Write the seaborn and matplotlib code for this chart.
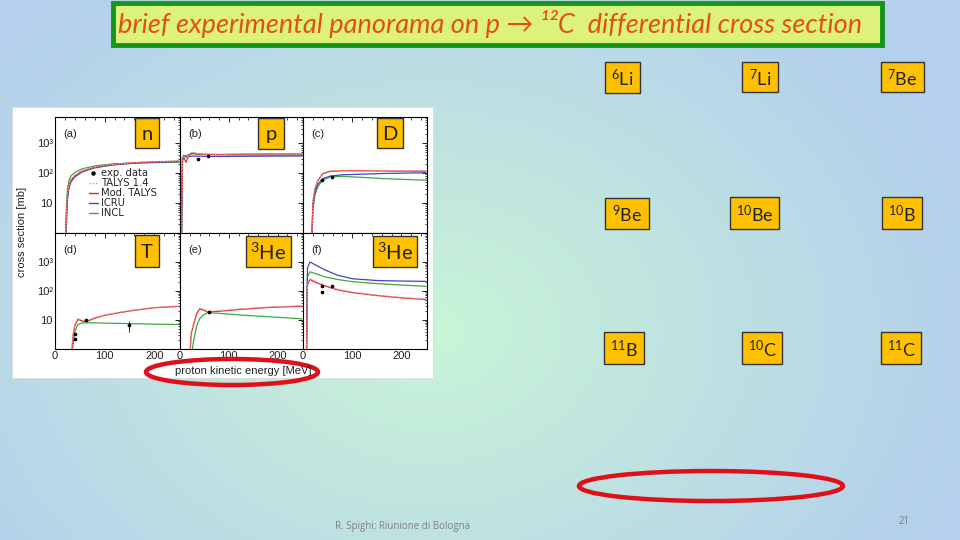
import numpy as np
import pandas as pd
import matplotlib
matplotlib.use("Agg")
import matplotlib.pyplot as plt
import seaborn as sns
from matplotlib.patches import Rectangle, Ellipse
from matplotlib.lines import Line2D
from matplotlib.ticker import FixedLocator, FixedFormatter, MultipleLocator, LogLocator, NullFormatter

# ---------------- data ----------------
models = ["TALYS 1.4", "Mod. TALYS", "ICRU", "INCL"]

# (a) neutrons
E_n = [21, 23, 25, 28, 32, 40, 55, 80, 120, 170, 250]
n_talys = [0.5, 5, 20, 40, 60, 85, 120, 160, 200, 230, 255]
n_mod = [0.5, 4, 18, 38, 58, 82, 118, 158, 198, 228, 252]
n_icru = [0.5, 2, 12, 30, 50, 75, 110, 150, 190, 220, 245]
n_incl = [0.5, 8, 30, 55, 80, 105, 140, 175, 205, 220, 230]

# (b) protons
E_p = [3, 5, 8, 12, 18, 25, 35, 50, 80, 120, 180, 250]
p_talys = [0.5, 300, 380, 260, 420, 500, 450, 430, 420, 430, 440, 440]
p_mod = [0.5, 250, 340, 230, 380, 480, 440, 425, 420, 430, 440, 440]
p_icru = [0.5, 320, 360, 350, 360, 370, 370, 365, 360, 365, 370, 375]
p_incl = [0.5, 340, 400, 380, 420, 440, 430, 420, 410, 405, 400, 400]
p_expE = [36, 58]
p_expY = [290, 370]

# (c) deuterons
E_d = [18, 20, 24, 30, 40, 55, 80, 120, 170, 250]
d_talys = [0.5, 12, 30, 60, 100, 120, 125, 125, 122, 120]
d_mod = [0.5, 10, 28, 55, 95, 115, 120, 120, 118, 116]
d_icru = [0.5, 8, 22, 42, 65, 80, 88, 92, 98, 103]
d_incl = [0.5, 6, 18, 35, 58, 75, 78, 72, 65, 58]
d_expE = [38, 58]
d_expY = [59, 74]

# (d) tritons
E_t = [33, 36, 40, 46, 55, 65, 80, 100, 150, 200, 250]
t_talys = [0.5, 3, 7, 11.5, 10, 9.5, 12, 15, 21, 27, 30]
t_mod = [0.5, 2.6, 6.4, 10.5, 9.2, 9.0, 11.5, 14.5, 20.5, 26.5, 29.5]
t_incl = [0.5, 1.2, 4, 7, 8, 8, 8, 7.8, 7.5, 7.2, 7.0]
t_expE = [40, 40, 62, 150]
t_expY = [3.4, 2.3, 10, 6.5]
t_expErr = [0, 0, 0, 2.5]

# (e) 3He
E_h = [20, 23, 28, 34, 40, 48, 57, 80, 120, 180, 250]
h_talys = [0.5, 4, 8, 18, 26, 24, 20, 21, 24, 28, 31]
h_mod = [0.5, 3.5, 7, 16, 24, 22, 19, 20, 23, 27, 30]
h_incl = [0.5, 0.5, 2, 6, 11, 15, 18, 17, 15, 13, 11]
h_expE = [60]
h_expY = [19]

# (f) alphas
E_f = [7, 9, 14, 25, 44, 70, 100, 150, 200, 250]
f_talys = [0.5, 180, 270, 220, 160, 115, 92, 72, 60, 53]
f_mod = [0.5, 160, 250, 200, 150, 110, 88, 70, 58, 51]
f_icru = [0.5, 600, 1000, 800, 540, 350, 265, 230, 220, 215]
f_incl = [0.5, 300, 460, 400, 310, 250, 210, 180, 160, 145]
f_expE = [38, 38, 58]
f_expY = [147, 95, 147]

panel_tags = ["(a)", "(b)", "(c)", "(d)", "(e)", "(f)"]
panel_particles = ["n", "p", "D", "T", "$^{3}$He", "$^{3}$He"]
fragments = ["$^{6}$Li", "$^{7}$Li", "$^{7}$Be",
             "$^{9}$Be", "$^{10}$Be", "$^{10}$B",
             "$^{11}$B", "$^{10}$C", "$^{11}$C"]
x_ticks = [0, 100, 200]
y_ticks = [10, 100, 1000]
y_ticklabels = ["10", "10²", "10³"]

title_text = "brief experimental panorama on p \u2192 \u00b9\u00b2C  differential cross section"
footer_text = "R. Spighi: Riunione di Bologna"
page_number = "21"

# ---------------- style ----------------
sns.set_theme(style="white")
plt.rcParams["font.family"] = ["Liberation Sans", "DejaVu Sans"]
plt.rcParams["mathtext.fontset"] = "custom"
plt.rcParams["mathtext.rm"] = "Lato"
plt.rcParams["mathtext.it"] = "Lato:italic"

palette = {"TALYS 1.4": "#F29A9A", "Mod. TALYS": "#D42A2A",
           "ICRU": "#4444C4", "INCL": "#3FA83F"}
dashes = {"TALYS 1.4": (1.2, 1.2), "Mod. TALYS": "", "ICRU": "", "INCL": ""}
draw_order = ["INCL", "ICRU", "Mod. TALYS", "TALYS 1.4"]

W, H = 960, 540
fig = plt.figure(figsize=(9.6, 5.4), dpi=100)

# background gradient
ax_bg = fig.add_axes([0, 0, 1, 1], zorder=0)
yy, xx = np.mgrid[0:H, 0:W]
d = np.sqrt(((xx - 430) / 560.0) ** 2 + ((yy - 330) / 430.0) ** 2)
t = np.clip(d, 0, 1)[..., None] ** 0.9
green = np.array([202, 246, 214]) / 255.0
blue = np.array([180, 208, 236]) / 255.0
ax_bg.imshow(green * (1 - t) + blue * t, extent=(0, W, H, 0), aspect="auto")
ax_bg.set_xlim(0, W)
ax_bg.set_ylim(H, 0)
ax_bg.axis("off")
# white inset picture area
ax_bg.add_patch(Rectangle((12, 107), 421, 271, facecolor="white", edgecolor="#d8d8d8", lw=0.5))


def px_axes(x0, y0, x1, y1, z=2):
    return fig.add_axes([x0 / W, 1 - y1 / H, (x1 - x0) / W, (y1 - y0) / H], zorder=z)


cols = [(55, 180), (180, 303), (303, 427)]
rows = [(117, 233), (233, 349)]

panels = [
    (E_n, {"TALYS 1.4": n_talys, "Mod. TALYS": n_mod, "ICRU": n_icru, "INCL": n_incl}, [], [], []),
    (E_p, {"TALYS 1.4": p_talys, "Mod. TALYS": p_mod, "ICRU": p_icru, "INCL": p_incl}, p_expE, p_expY, [0] * len(p_expE)),
    (E_d, {"TALYS 1.4": d_talys, "Mod. TALYS": d_mod, "ICRU": d_icru, "INCL": d_incl}, d_expE, d_expY, [0] * len(d_expE)),
    (E_t, {"TALYS 1.4": t_talys, "Mod. TALYS": t_mod, "INCL": t_incl}, t_expE, t_expY, t_expErr),
    (E_h, {"TALYS 1.4": h_talys, "Mod. TALYS": h_mod, "INCL": h_incl}, h_expE, h_expY, [0] * len(h_expE)),
    (E_f, {"TALYS 1.4": f_talys, "Mod. TALYS": f_mod, "ICRU": f_icru, "INCL": f_incl}, f_expE, f_expY, [0] * len(f_expE)),
]

axes = []
for i, (E, series, eE, eY, eErr) in enumerate(panels):
    r, c = divmod(i, 3)
    ax = px_axes(cols[c][0], rows[r][0], cols[c][1], rows[r][1])
    ax.set_facecolor("white")
    frames = [pd.DataFrame({"E": E, "xs": series[m], "model": m}) for m in draw_order if m in series]
    df = pd.concat(frames, ignore_index=True)
    present = [m for m in draw_order if m in series]
    sns.lineplot(data=df, x="E", y="xs", hue="model", style="model",
                 hue_order=present, style_order=present,
                 palette={m: palette[m] for m in present},
                 dashes={m: dashes[m] for m in present},
                 estimator=None, sort=False, linewidth=0.9, legend=False, ax=ax)
    if len(eE):
        sns.scatterplot(x=eE, y=eY, color="black", s=7, linewidth=0, ax=ax, zorder=5)
        if any(e > 0 for e in eErr):
            ax.errorbar(eE, eY, yerr=eErr, fmt="none", ecolor="black", elinewidth=0.6, zorder=5)
    ax.set_yscale("log")
    ax.set_xlim(0, 252)
    ax.set_ylim(1, 7500 if r == 0 else 10000)
    ax.set_xlabel("")
    ax.set_ylabel("")
    ax.xaxis.set_major_locator(FixedLocator(x_ticks))
    ax.xaxis.set_minor_locator(MultipleLocator(20))
    ax.yaxis.set_major_locator(FixedLocator(y_ticks))
    ax.yaxis.set_major_formatter(FixedFormatter(y_ticklabels))
    ax.yaxis.set_minor_locator(LogLocator(base=10, subs=np.arange(2, 10)))
    ax.yaxis.set_minor_formatter(NullFormatter())
    ax.tick_params(which="both", direction="in", top=True, right=True, colors="black",
                   labelsize=8, pad=1.5, labelcolor="#222222")
    ax.tick_params(which="major", length=3.5, width=0.6)
    ax.tick_params(which="minor", length=1.8, width=0.5)
    ax.tick_params(labelleft=(c == 0), labelbottom=(r == 1))
    for s in ax.spines.values():
        s.set_color("black")
        s.set_linewidth(0.8)
    ax.text(0.07, 0.9, panel_tags[i], transform=ax.transAxes, fontsize=8, va="top", ha="left", color="#222222")
    axes.append(ax)

# legend in panel (a)
handles = [Line2D([], [], marker="o", ls="none", color="black", ms=2.2)]
for m in models:
    handles.append(Line2D([], [], color=palette[m], lw=1.0,
                          ls=(0, dashes[m]) if dashes[m] else "-"))
axes[0].legend(handles, ["exp. data"] + models, loc="upper left", bbox_to_anchor=(0.27, 0.56),
               frameon=False, prop={"family": "DejaVu Sans", "size": 7.2},
               handlelength=0.9, handletextpad=0.35,
               labelspacing=0.0, borderpad=0, borderaxespad=0)

# overlay for annotations
ov = fig.add_axes([0, 0, 1, 1], zorder=10)
ov.set_xlim(0, W)
ov.set_ylim(H, 0)
ov.axis("off")
ov.patch.set_alpha(0)

ov.text(22, 232, "cross section [mb]", rotation=90, ha="center", va="center", fontsize=8, color="#222222")
ov.text(243, 371, "proton kinetic energy [MeV]", ha="center", va="center", fontsize=8, color="#222222")

# title box
ov.add_patch(Rectangle((113, 3), 769, 42, facecolor="#DDF27C", edgecolor="#14961A", lw=3.5))
ov.text(118, 24, title_text, ha="left", va="center", fontsize=19.5, style="italic",
        color="#E2520C", family=["Lato", "DejaVu Sans"])

# particle boxes on the inset
left_boxes = [(135, 118, 159, 148), (258, 118, 284, 149), (377, 118, 403, 148),
              (135, 235, 159, 267), (246, 236, 291, 267), (373, 236, 417, 267)]
for (x0, y0, x1, y1), lab in zip(left_boxes, panel_particles):
    ov.add_patch(Rectangle((x0, y0), x1 - x0, y1 - y0, facecolor="#FFC000", edgecolor="#333333", lw=1))
    ov.text((x0 + x1) / 2, (y0 + y1) / 2 + 1, lab, ha="center", va="center", fontsize=14.5,
            color="#222222", family=["Lato", "DejaVu Sans"])

right_boxes = [(605, 62, 640, 93), (742, 62, 778, 92), (881, 62, 924, 92),
               (605, 198, 649, 229), (730, 197, 779, 229), (882, 197, 922, 229),
               (604, 332, 644, 364), (742, 332, 782, 364), (881, 332, 921, 364)]
for (x0, y0, x1, y1), lab in zip(right_boxes, fragments):
    ov.add_patch(Rectangle((x0, y0), x1 - x0, y1 - y0, facecolor="#FFC000", edgecolor="#333333", lw=1))
    ov.text((x0 + x1) / 2, (y0 + y1) / 2 + 1, lab, ha="center", va="center", fontsize=13,
            color="#222222", family=["Lato", "DejaVu Sans"])

# red ellipses
ov.add_patch(Ellipse((232, 372), 172, 26, facecolor="none", edgecolor="#E0101A", lw=3.2))
ov.add_patch(Ellipse((711, 486), 264, 30, facecolor="none", edgecolor="#E0101A", lw=3.2))

# footer
ov.text(403, 526, footer_text, ha="center", va="center", fontsize=7, color="#7f7f7f",
        family=["Open Sans", "DejaVu Sans"])
ov.text(904, 521, page_number, ha="center", va="center", fontsize=7, color="#7f7f7f",
        family=["Open Sans", "DejaVu Sans"])

fig.savefig("out.png", dpi=100)
